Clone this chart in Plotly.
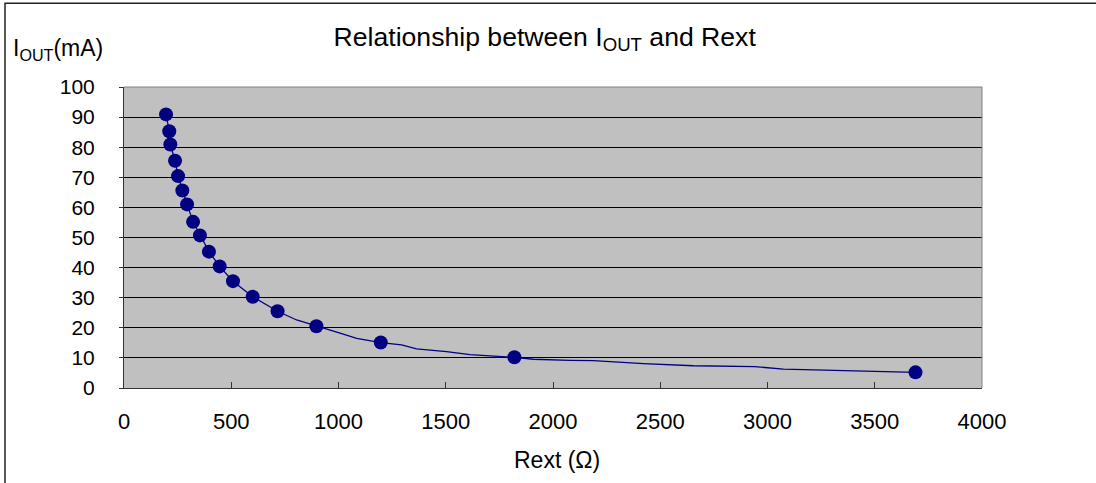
import plotly.graph_objects as go

# Marker data (Rext in ohm, Iout in mA)
rext = [196, 211, 216, 238, 252, 272, 294, 322, 354, 396, 446, 508, 600, 716, 897, 1197, 1820, 3690]
iout = [90.9, 85.3, 80.9, 75.5, 70.4, 65.6, 61.0, 55.2, 50.7, 45.3, 40.4, 35.5, 30.3, 25.5, 20.5, 15.1, 10.2, 5.2]

# Curve vertices
curve_r = [196, 211, 216, 238, 252, 272, 294, 322, 354, 396, 446, 508, 600, 716, 805, 897, 1007, 1085, 1197,
           1294, 1364, 1504, 1613, 1820, 1908, 2079, 2188, 2421, 2654, 2940, 3074, 3690]
curve_i = [90.9, 85.3, 80.9, 75.5, 70.4, 65.6, 61.0, 55.2, 50.7, 45.3, 40.4, 35.5, 30.3, 25.5, 22.6, 20.5, 18.2, 16.5, 15.1,
           14.3, 13.0, 12.1, 11.1, 10.2, 9.55, 9.2, 9.1, 8.1, 7.4, 7.1, 6.3, 5.2]

x_ticks = [0, 500, 1000, 1500, 2000, 2500, 3000, 3500, 4000]
y_ticks = [0, 10, 20, 30, 40, 50, 60, 70, 80, 90, 100]

FONT = "Arial, 'Liberation Sans', sans-serif"
NAVY = "#000080"

fig = go.Figure()
fig.add_trace(go.Scatter(x=curve_r, y=curve_i, mode="lines",
                         line=dict(color=NAVY, width=1.3), hoverinfo="skip", showlegend=False))
fig.add_trace(go.Scatter(x=rext, y=iout, mode="markers",
                         marker=dict(color=NAVY, size=14), showlegend=False))

fig.update_layout(
    width=1096, height=483,
    margin=dict(l=124, r=114, t=87, b=95, autoexpand=False),
    paper_bgcolor="white", plot_bgcolor="#C0C0C0",
    font=dict(family=FONT, size=22, color="black"),
    title=dict(text="Relationship between I<sub>OUT</sub> and Rext", x=0.497, xanchor="center",
               y=0.925, yanchor="middle", font=dict(size=26.6, family=FONT, color="black")),
    xaxis=dict(range=[0, 4000], tickvals=x_ticks, ticktext=[str(v) for v in x_ticks],
               showgrid=False, zeroline=False, showline=True, linecolor="#333333", linewidth=1,
               ticks="inside", ticklen=6, tickcolor="#333333", tickfont=dict(size=22),
               ticklabelstandoff=14),
    yaxis=dict(range=[0, 100], tickvals=y_ticks, ticktext=[str(v) for v in y_ticks],
               showgrid=True, gridcolor="black", gridwidth=1, zeroline=False,
               showline=True, linecolor="#333333", linewidth=1,
               ticks="outside", ticklen=4, tickcolor="#333333", tickfont=dict(size=21),
               ticklabelstandoff=20),
    shapes=[
        dict(type="line", xref="paper", yref="paper", x0=0, x1=1, y0=1, y1=1,
             line=dict(color="#808080", width=1)),
        dict(type="line", xref="paper", yref="paper", x0=1, x1=1, y0=0, y1=1,
             line=dict(color="#808080", width=1)),
        dict(type="rect", xref="paper", yref="paper", x0=-0.1387, x1=1.3, y0=-0.5, y1=1.2779,
             line=dict(color="#222222", width=1.5), fillcolor="rgba(0,0,0,0)", layer="above"),
    ],
    annotations=[
        dict(text="I<sub>OUT</sub>(mA)", xref="paper", yref="paper",
             x=(11 - 124) / 858, y=(388 - 50) / 300.5, xanchor="left", yanchor="middle",
             showarrow=False, font=dict(size=23, family=FONT, color="black")),
        dict(text="Rext (Ω)", xref="paper", yref="paper",
             x=(557 - 124) / 858, y=(388 - 460) / 300.5, xanchor="center", yanchor="middle",
             showarrow=False, font=dict(size=23, family=FONT, color="black")),
    ],
)

fig.write_html("out.html", config={"displayModeBar": False},
               post_script="document.body.style.margin='0';document.body.style.padding='0';")
